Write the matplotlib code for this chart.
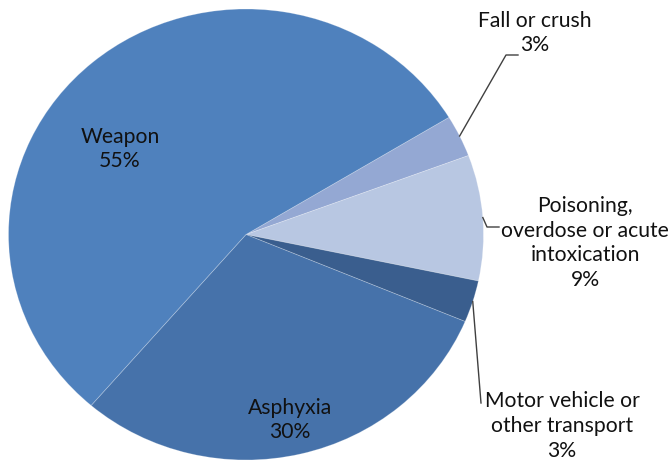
import numpy as np
import matplotlib
matplotlib.use("Agg")
import matplotlib.pyplot as plt

# slices in clockwise drawing order, starting at the upper right
labels = ["Fall or crush", "Poisoning,\noverdose or acute\nintoxication",
          "Motor vehicle or\nother transport", "Asphyxia", "Weapon"]
shares = [3, 9, 3, 30, 55]
pct_text = ["3%", "9%", "3%", "30%", "55%"]
colors = ["#94A8D3", "#B8C7E2", "#3A5E8E", "#4672AA", "#4F81BD"]

W, H = 670, 465
CX, CY, RX, RY = 246, 234.5, 237.5, 225.5


def to_data(px, py):
    # pixel position in the picture -> pie data coordinates
    return (px - CX) / RX, (CY - py) / RY


plt.rcParams['font.family'] = ['Lato', 'DejaVu Sans']

fig = plt.figure(figsize=(W / 100, H / 100), dpi=100)
ax = fig.add_axes([(CX - RX) / W, (H - CY - RY) / H, 2 * RX / W, 2 * RY / H])

start = 31.3
wedges, _ = ax.pie(shares, colors=colors, startangle=start, counterclock=False,
                   radius=1, wedgeprops=dict(edgecolor=(1, 1, 1, 0.25), linewidth=0.6))
ax.set_aspect('auto')
ax.set_xlim(-1, 1)
ax.set_ylim(-1, 1)
ax.axis('off')

# label centres (pixels)
label_pos = [(535, 33), (585, 243), (562, 426), (290, 420), (120, 149)]
for lab, pct, (px, py) in zip(labels, pct_text, label_pos):
    x, y = to_data(px, py)
    ax.text(x, y, lab + "\n" + pct, ha='center', va='center', multialignment='center',
            fontsize=15.2, color='#111111', linespacing=1.3, clip_on=False)

# leader lines for the small / outside slices
cum = np.cumsum([0] + shares)
mid = [start - 360 * (cum[i] + cum[i + 1]) / 2 / 100 for i in range(len(shares))]


def edge(i):
    a = np.radians(mid[i])
    return np.cos(a), np.sin(a)


leaders = {0: [(506, 55), (518, 55)], 1: [(487, 227), (499, 227)], 2: [(481, 403)]}
for i, pts in leaders.items():
    x0, y0 = edge(i)
    xs = [x0] + [to_data(*p)[0] for p in pts]
    ys = [y0] + [to_data(*p)[1] for p in pts]
    ax.plot(xs, ys, color='#404040', lw=1.0, clip_on=False)

fig.savefig("out.png", dpi=100)
